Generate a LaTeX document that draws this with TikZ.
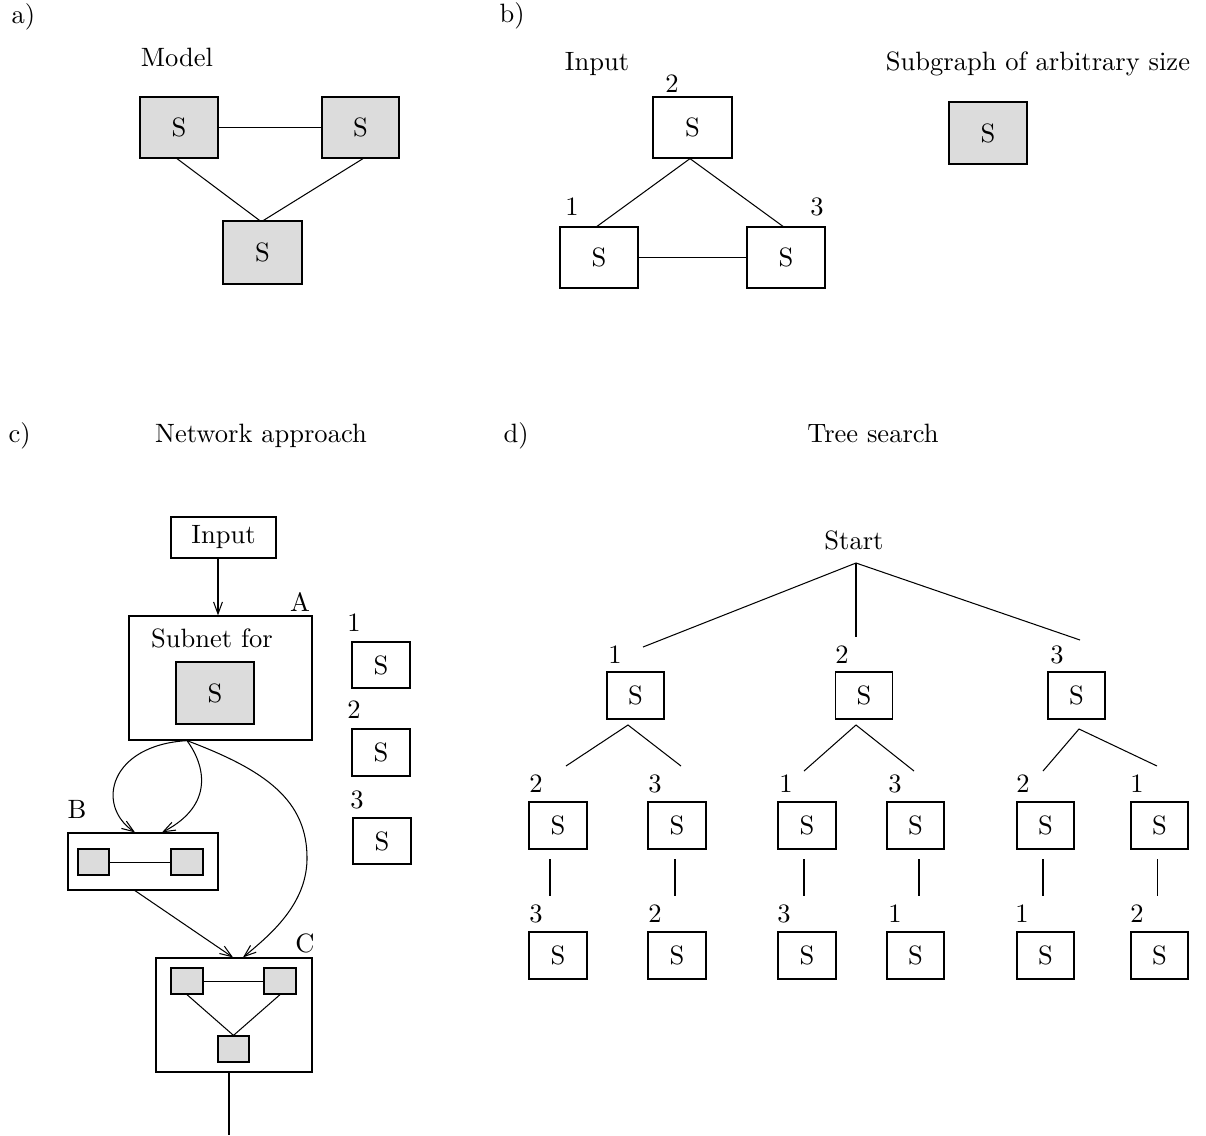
\documentclass[tikz,border=0pt]{standalone}
\usetikzlibrary{arrows.meta}
% one drawing unit
\newcommand{\px}{0.3846pt}
\definecolor{boxgray}{RGB}{220,220,220}
\tikzset{
  rect/.style 2 args={draw, line width=0.48pt, inner sep=0pt,
    minimum width=#1*\px, minimum height=#2*\px},
  shaded/.style={fill=boxgray},
  lbl/.style={inner sep=0pt, anchor=base},
  lblw/.style={inner sep=0pt, anchor=base west},
  ln/.style={line width=0.4pt},
  arw/.style={ln, -{Straight Barb[length=4.6pt,width=3.4pt]}}
}
\begin{document}
\begin{tikzpicture}[x=\px, y=-\px, font=\fontsize{10.2}{12}\selectfont]
\useasboundingbox (0,0) rectangle (1206,1135);

% ---------- a) model ----------
\node[lblw] (ha) at (11,23) {a)};
\node[lbl] (model) at (177,66.5) {Model};
\node[rect={78}{61}, shaded] (a1) at (179,127.5) {S};
\node[rect={77}{61}, shaded] (a2) at (360.5,127.5) {S};
\node[rect={79}{63}, shaded] (a3) at (262.5,252.5) {S};
\draw[ln] (a1.east) -- (a2.west);
\draw[ln] ([xshift=-2*\px]a1.south) -- ([xshift=-3*\px]a3.north);
\draw[ln] ([xshift=2.5*\px]a2.south) -- ([xshift=1*\px]a3.north);

% ---------- b) input graph ----------
\node[lblw] (hb) at (499,22) {b)};
\node[lbl] (binput) at (597,70) {Input};
\node[rect={79}{61}] (b2) at (692.5,127.5) {S};
\node[rect={78}{61}] (b1) at (599,257.5) {S};
\node[rect={78}{61}] (b3) at (786,257.5) {S};
\node[lbl] (nb2) at (672,92) {2};
\node[lbl] (nb1) at (572,215) {1};
\node[lbl] (nb3) at (817,215) {3};
\draw[ln] ([xshift=-2.5*\px]b2.south) -- ([xshift=-2*\px]b1.north);
\draw[ln] ([xshift=-2.5*\px]b2.south) -- ([xshift=-3*\px]b3.north);
\draw[ln] (b1.east) -- (b3.west);
\node[lbl] (subg) at (1038,70) {Subgraph of arbitrary size};
\node[rect={78}{62}, shaded] (bs) at (988,133) {S};

% ---------- c) network approach ----------
\node[lblw] (hc) at (8,442) {c)};
\node[lbl] (net) at (261,442) {Network approach};
\node[rect={105}{41}] (inp) at (223.5,537.5) {Input};
\node[rect={183}{124}] (A) at (220.5,678) {};
\node[lbl] (subnet) at (212,647) {Subnet for};
\node[rect={78}{62}, shaded] (Ain) at (215,693) {S};
\node[lbl] (labA) at (300,611) {A};
\node[rect={58}{46}] (c1) at (381,665) {S};
\node[rect={58}{47}] (c2) at (381,752.5) {S};
\node[rect={58}{46}] (c3) at (382,841) {S};
\node[lbl] (nc1) at (354,631) {1};
\node[lbl] (nc2) at (354,718) {2};
\node[lbl] (nc3) at (357,808) {3};

\node[rect={150}{57}] (B) at (143,861.5) {};
\node[lbl] (labB) at (77,818) {B};
\node[rect={31}{26}, shaded] (Bl) at (93.5,862) {};
\node[rect={32}{26}, shaded] (Br) at (187,862) {};
\draw[ln] (Bl.east) -- (Br.west);

\node[rect={156}{114}] (C) at (234,1015) {};
\node[lbl] (labC) at (305,952) {C};
\node[rect={32}{26}, shaded] (Cl) at (187,981) {};
\node[rect={32}{26}, shaded] (Cr) at (280,981) {};
\node[rect={31}{26}, shaded] (Cb) at (233.5,1049) {};
\draw[ln] (Cl.east) -- (Cr.west);
\draw[ln] (Cl.south) -- (Cb.north);
\draw[ln] (Cr.south) -- (Cb.north);
\coordinate (cout) at (229,1135);
\draw[ln] ([xshift=-5*\px]C.south) -- (cout);

\draw[arw] ([xshift=-5.5*\px]inp.south) -- ([xshift=-2.5*\px]A.north);
\coordinate (Aout) at ([xshift=-33.5*\px]A.south);
\draw[arw] (Aout) .. controls (110,745) and (95,805) .. ([xshift=-8*\px]B.north);
\draw[arw] (Aout) .. controls (205,765) and (215,805) .. ([xshift=19*\px]B.north);
\draw[arw] (Aout) .. controls (265,770) and (308,800) .. (307,860)
                  .. controls (306,905) and (270,935) .. ([xshift=9*\px]C.north);
\draw[arw] ([xshift=-8*\px]B.south) -- ([xshift=-1*\px]C.north);

% ---------- d) tree search ----------
\node[lblw] (hd) at (503,442) {d)};
\node[lbl] (tree) at (873,442) {Tree search};
\node[lbl] (start) at (854,549) {Start};
\coordinate (root) at (856,563);

% first level
\node[rect={57}{47}] (t1) at (635.5,695.5) {S};
\node[rect={57}{47}] (t2) at (864,695.5) {S};
\node[rect={57}{47}] (t3) at (1076.5,695.5) {S};
\node[lbl] (n1) at (615,663) {1};
\node[lbl] (n2) at (842,663) {2};
\node[lbl] (n3) at (1057,663) {3};
\coordinate (e1) at (643,647);
\coordinate (e2) at (856,637);
\coordinate (e3) at (1080,640);
\draw[ln] (e1) -- (root) -- (e3);
\draw[ln] (root) -- (e2);

% second level
\node[rect={58}{47}] (t12) at (558,825.5) {S};
\node[rect={58}{47}] (t13) at (677,825.5) {S};
\node[rect={58}{47}] (t21) at (807,825.5) {S};
\node[rect={57}{47}] (t23) at (915.5,825.5) {S};
\node[rect={57}{47}] (t32) at (1045.5,825.5) {S};
\node[rect={57}{47}] (t31) at (1159.5,825.5) {S};
\node[lbl] (n12) at (536,792) {2};
\node[lbl] (n13) at (655,792) {3};
\node[lbl] (n21) at (786,792) {1};
\node[lbl] (n23) at (895,792) {3};
\node[lbl] (n32) at (1023,792) {2};
\node[lbl] (n31) at (1137,792) {1};
\coordinate (p1) at (628,725);
\coordinate (p2) at (856,725);
\coordinate (p3) at (1079,729);
\coordinate (e12) at (566,766);
\coordinate (e13) at (681,766);
\coordinate (e21) at (804,771);
\coordinate (e23) at (914,771);
\coordinate (e32) at (1043,771);
\coordinate (e31) at (1157,766);
\draw[ln] (e12) -- (p1) -- (e13);
\draw[ln] (e21) -- (p2) -- (e23);
\draw[ln] (e32) -- (p3) -- (e31);

% third level
\node[rect={58}{47}] (t123) at (558,955.5) {S};
\node[rect={58}{47}] (t132) at (677,955.5) {S};
\node[rect={58}{47}] (t213) at (807,955.5) {S};
\node[rect={57}{47}] (t231) at (915.5,955.5) {S};
\node[rect={57}{47}] (t321) at (1045.5,955.5) {S};
\node[rect={57}{47}] (t312) at (1159.5,955.5) {S};
\node[lbl] (n123) at (536,922) {3};
\node[lbl] (n132) at (655,922) {2};
\node[lbl] (n213) at (784,922) {3};
\node[lbl] (n231) at (895,922) {1};
\node[lbl] (n321) at (1022,922) {1};
\node[lbl] (n312) at (1137,922) {2};
\foreach \x/\n in {550/a, 675/b, 804/c, 919/d, 1043/e, 1157/f} {
  \coordinate (v\n1) at (\x,859);
  \coordinate (v\n2) at (\x,896);
  \draw[ln] (v\n1) -- (v\n2);
}
\end{tikzpicture}
\end{document}
